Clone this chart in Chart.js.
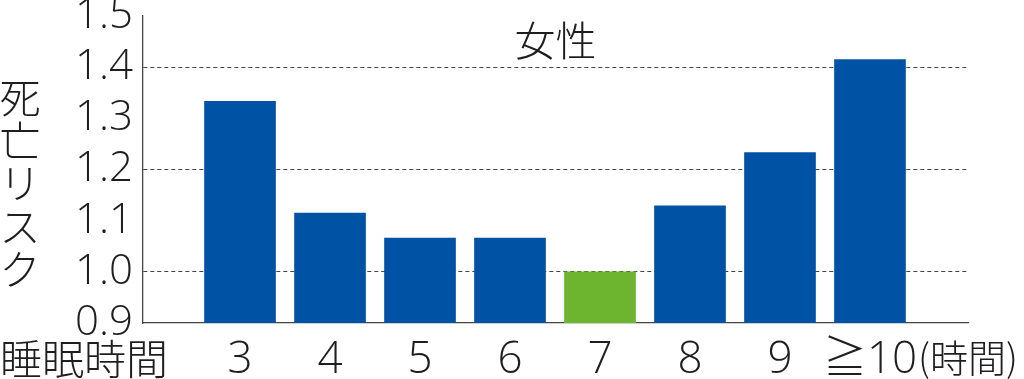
<!DOCTYPE html>
<html>
<head>
<meta charset="utf-8">
<script src="https://cdn.jsdelivr.net/npm/chart.js@4.4.1/dist/chart.umd.min.js"></script>
<style>
  html, body { margin: 0; padding: 0; background: #ffffff; }
  #wrap { width: 1024px; height: 379px; }
</style>
</head>
<body>
<div id="wrap"><canvas id="c" width="1024" height="379"></canvas></div>
<script>
// ---- data ----
const categories = ["3", "4", "5", "6", "7", "8", "9", "≧10"];
const riskValues = [1.333, 1.115, 1.066, 1.066, 1.00, 1.129, 1.233, 1.415];
const referenceCategory = "7";
const yTicks = [0.9, 1.0, 1.1, 1.2, 1.3, 1.4, 1.5];
const dashedGridValues = [1.0, 1.2, 1.4];
const titleText = "女性";
const yAxisTitle = "死亡リスク";
const xAxisTitle = "睡眠時間";
const xUnitText = "(時間)";

const BLUE = "#0052a4";
const GREEN = "#6db52f";
const INK = "#1e1e1e";
const LATIN = "'Open Sans', 'Noto Sans CJK JP', 'DejaVu Sans', sans-serif";
const CJK = "'Noto Sans CJK JP', 'Noto Sans', sans-serif";

const points = riskValues.map((v, i) => ({ x: i, y: v }));
const barColors = categories.map(c => c === referenceCategory ? GREEN : BLUE);

const textPlugin = {
  id: 'extraText',
  afterDraw(chart) {
    const ctx = chart.ctx;
    const area = chart.chartArea;
    const xs = chart.scales.x;
    ctx.save();
    ctx.fillStyle = INK;
    // title
    ctx.font = "300 41px " + CJK;
    ctx.textAlign = "center";
    ctx.textBaseline = "middle";
    ctx.fillText(titleText, (area.left + area.right) / 2, 40);
    // vertical y-axis title
    ctx.font = "300 41px " + CJK;
    const chars = Array.from(yAxisTitle);
    chars.forEach((ch, i) => {
      ctx.fillText(ch, 20, 97 + i * 43);
    });
    // x axis title at bottom-left
    ctx.textAlign = "left";
    ctx.font = "300 42px " + CJK;
    ctx.fillText(xAxisTitle, 0, 359);
    // unit after last category
    const lastX = xs.getPixelForValue(categories.length - 1);
    ctx.font = "300 38px " + CJK;
    ctx.fillText(xUnitText, lastX + 48, 358);
    ctx.restore();
  }
};

new Chart(document.getElementById('c'), {
  type: 'bar',
  data: {
    datasets: [{
      data: points,
      backgroundColor: barColors,
      borderWidth: 0,
      barThickness: 71
    }]
  },
  options: {
    responsive: false,
    animation: false,
    events: [],
    layout: { padding: { left: 0, right: 56, top: 16, bottom: 0 } },
    plugins: { legend: { display: false }, tooltip: { enabled: false }, title: { display: false } },
    scales: {
      x: {
        type: 'linear',
        offset: false,
        min: -1.078,
        max: 8.089,
        afterBuildTicks(scale) {
          scale.ticks = categories.map((c, i) => ({ value: i }));
        },
        afterFit(scale) {
          scale.height = 56;
          scale.paddingLeft = 0;
          scale.paddingRight = 0;
        },
        grid: { display: false, drawTicks: false, offset: false },
        border: { display: true, color: '#444444', width: 1.3 },
        ticks: {
          autoSkip: false,
          maxRotation: 0,
          padding: 11,
          color: INK,
          font: { family: LATIN, size: 44, weight: '300' },
          callback(v) { return categories[v]; }
        }
      },
      y: {
        min: 0.9,
        max: 1.5,
        afterBuildTicks(scale) {
          scale.ticks = yTicks.map(v => ({ value: v }));
        },
        afterFit(scale) {
          scale.width = 143;
          scale.paddingTop = 0;
          scale.paddingBottom = 0;
        },
        grid: {
          drawTicks: false,
          lineWidth: 1,
          color(ctx) {
            const v = ctx.tick ? ctx.tick.value : null;
            if (v === null) return 'rgba(0,0,0,0)';
            return dashedGridValues.some(d => Math.abs(d - v) < 1e-6) ? '#444444' : 'rgba(0,0,0,0)';
          }
        },
        border: { display: true, color: '#444444', width: 1.3, dash: [4, 3] },
        ticks: {
          autoSkip: false,
          padding: 10,
          color: INK,
          font: { family: LATIN, size: 42, weight: '300' },
          callback(v) { return Number(v).toFixed(1); }
        }
      }
    }
  },
  plugins: [textPlugin]
});
</script>
</body>
</html>
